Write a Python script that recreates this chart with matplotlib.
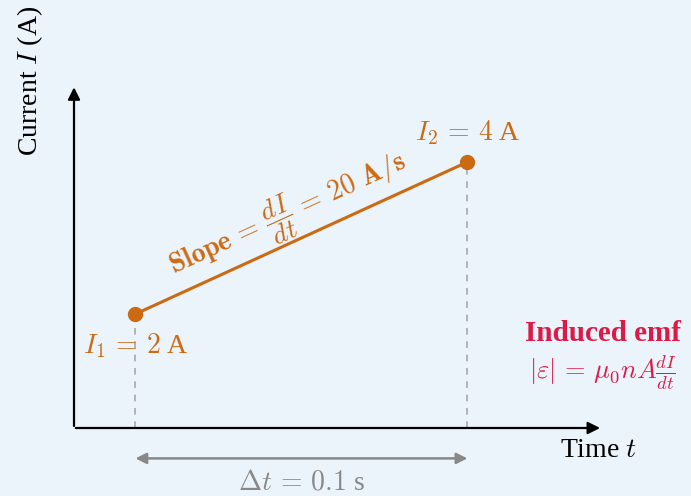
import matplotlib.pyplot as plt
import numpy as np

plt.rcParams['font.family'] = 'Liberation Serif'
plt.rcParams['mathtext.fontset'] = 'cm'

# current ramp endpoints
t_points = [0.0185, 0.1185]   # s
i_points = [2, 4]             # A
dt = t_points[1] - t_points[0]
slope = (i_points[1] - i_points[0]) / dt

orange = '#CC6A12'
crimson = '#DC1A48'
grey = '#A8A8A8'
bg = '#EBF3FB'

# axis origin and arrow ends (data units)
t0, i0 = 0.0, 0.5
t_end, i_end = 0.1593, 5.02

fig = plt.figure(figsize=(6.91, 4.96), dpi=100, facecolor=bg)
ax = fig.add_axes([0, 0, 1, 1])
ax.set_facecolor(bg)
ax.set_xlim(-0.02229, 0.18584)
ax.set_ylim(-0.3947, 6.1316)
ax.axis('off')

# axes as arrows
ax.annotate('', xy=(t0, i_end), xytext=(t0, i0 - 0.01),
            arrowprops=dict(arrowstyle='-|>', color='black', lw=1.6, mutation_scale=18))
ax.annotate('', xy=(t_end, i0), xytext=(t0 - 0.0003, i0),
            arrowprops=dict(arrowstyle='-|>', color='black', lw=1.6, mutation_scale=18))
ax.text(-0.0133, 5.07, 'Current $I$ (A)', rotation=90, ha='center', va='center', fontsize=20)
ax.text(0.1578, 0.20, 'Time $t$', ha='center', va='center', fontsize=20)

# drop lines to the time axis
for t, i in zip(t_points, i_points):
    ax.plot([t, t], [i0, i], ls=(0, (4, 4)), color=grey, lw=1.2, zorder=1)

# the ramp
ax.plot(t_points, i_points, color=orange, lw=2.2, zorder=2)
ax.plot(t_points, i_points, 'o', color=orange, ms=10, zorder=3)

ax.text(t_points[0], i_points[0] - 0.42, f'$I_1\\,=\\,{i_points[0]}$ A', ha='center', va='center',
        fontsize=20, color=orange)
ax.text(t_points[1], i_points[1] + 0.38, f'$I_2\\,=\\,{i_points[1]}$ A', ha='center', va='center',
        fontsize=20, color=orange)

ang = np.degrees(np.arctan2(152, 332))
ax.text(0.0645, 3.30,
        r'$\mathbf{Slope}\,=\,\dfrac{dI}{dt}\,=\,' + f'{slope:.0f}' + r'\ \mathbf{A/s}$',
        rotation=ang, rotation_mode='anchor', ha='center', va='center', fontsize=20, color=orange)

# delta t marker
ax.annotate('', xy=(t_points[0], 0.1), xytext=(t_points[1], 0.1),
            arrowprops=dict(arrowstyle='<|-|>', color='#888888', lw=1.8, mutation_scale=16,
                            shrinkA=0, shrinkB=0))
ax.text((t_points[0] + t_points[1]) / 2, -0.22, rf'$\Delta t\,=\,{dt:.1f}$ s', ha='center',
        va='center', fontsize=20, color='#888888')

# induced emf note
ax.text(0.1594, 1.75, 'Induced emf', ha='center', va='center', fontsize=21,
        fontweight='bold', color=crimson)
ax.text(0.1594, 1.23, r'$|\varepsilon|\,=\,\mu_0 n A \frac{dI}{dt}$', ha='center', va='center',
        fontsize=19, color=crimson)

fig.savefig('out.png', dpi=100, facecolor=bg)
